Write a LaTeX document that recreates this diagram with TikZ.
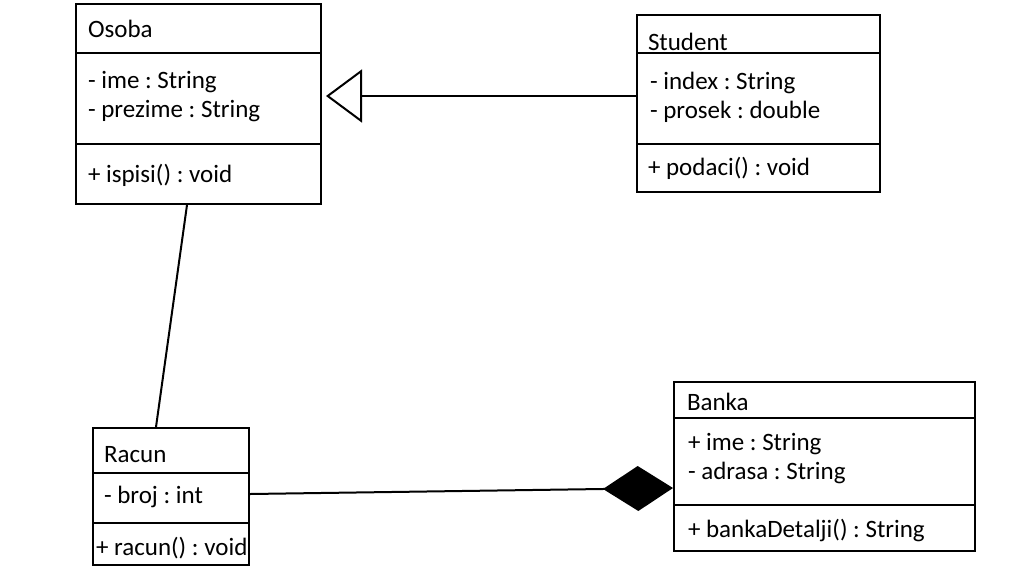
\documentclass[tikz,border=0pt]{standalone}
\usepackage{fontspec}
\setmainfont{Carlito}
\usetikzlibrary{arrows.meta}

\begin{document}
\frenchspacing
\begin{tikzpicture}[x=1pt,y=-1pt,line width=2pt,
	classbox/.style={draw=black,inner sep=0pt},
	member/.style={anchor=west,inner sep=0pt,yshift=-2pt,align=left,font=\fontsize{25}{29.5}\selectfont},
	gen/.style={-{Triangle[open,length=36pt,width=53pt]}},
	comp/.style={-{Diamond[length=70pt,width=45pt]}}]
	
	\useasboundingbox (0,0) rectangle (1024,576);
	
	\node[classbox,minimum width=245pt,minimum height=200pt] (osoba)   at (198.5, 104)   {};
	\node[classbox,minimum width=243pt,minimum height=177pt] (student) at (758.5, 103.5) {};
	\node[classbox,minimum width=156pt,minimum height=137pt] (racun)   at (171, 496.5)   {};
	\node[classbox,minimum width=301pt,minimum height=169pt] (banka)   at (824.5, 466.5) {};
	
	\draw (osoba.west |- 0,53)    -- (osoba.east |- 0,53);
	\draw (osoba.west |- 0,144)   -- (osoba.east |- 0,144);
	\draw (student.west |- 0,53)  -- (student.east |- 0,53);
	\draw (student.west |- 0,144) -- (student.east |- 0,144);
	\draw (racun.west |- 0,473)   -- (racun.east |- 0,473);
	\draw (racun.west |- 0,523)   -- (racun.east |- 0,523);
	\draw (banka.west |- 0,418)   -- (banka.east |- 0,418);
	\draw (banka.west |- 0,505)   -- (banka.east |- 0,505);
	
	\node[member] (osobaname)    at (87, 27)    {Osoba};
	\node[member] (osobaattr)    at (87, 94.5)  {- ime : String\\- prezime : String};
	\node[member] (osobaop)      at (87, 173)   {+ ispisi() : void};
	\node[member] (studentname)  at (647, 40)   {Student};
	\node[member] (studentattr)  at (649, 95.5) {- index : String\\- prosek : double};
	\node[member] (studentop)    at (647, 166)  {+ podaci() : void};
	\node[member] (racunname)    at (103, 453)  {Racun};
	\node[member] (racunattr)    at (103, 495)  {- broj : int};
	\node[member] (racunop)      at (95, 546)   {+ racun() : void};
	\node[member] (bankaname)    at (686, 400)  {Banka};
	\node[member] (bankaattr)    at (687, 456.5) {+ ime : String\\- adrasa : String};
	\node[member] (bankaop)      at (687, 528)  {+ bankaDetalji() : String};
	
	\draw[gen]  (student.west |- 0,96) -- ([xshift=4pt]osoba.east |- 0,96);
	\draw       ([xshift=-11.5pt]osoba.south) -- ([xshift=-15pt]racun.north);
	\draw[comp] (racun.east |- 0,494) -- (banka.west |- 0,488);
	
\end{tikzpicture}
\end{document}
